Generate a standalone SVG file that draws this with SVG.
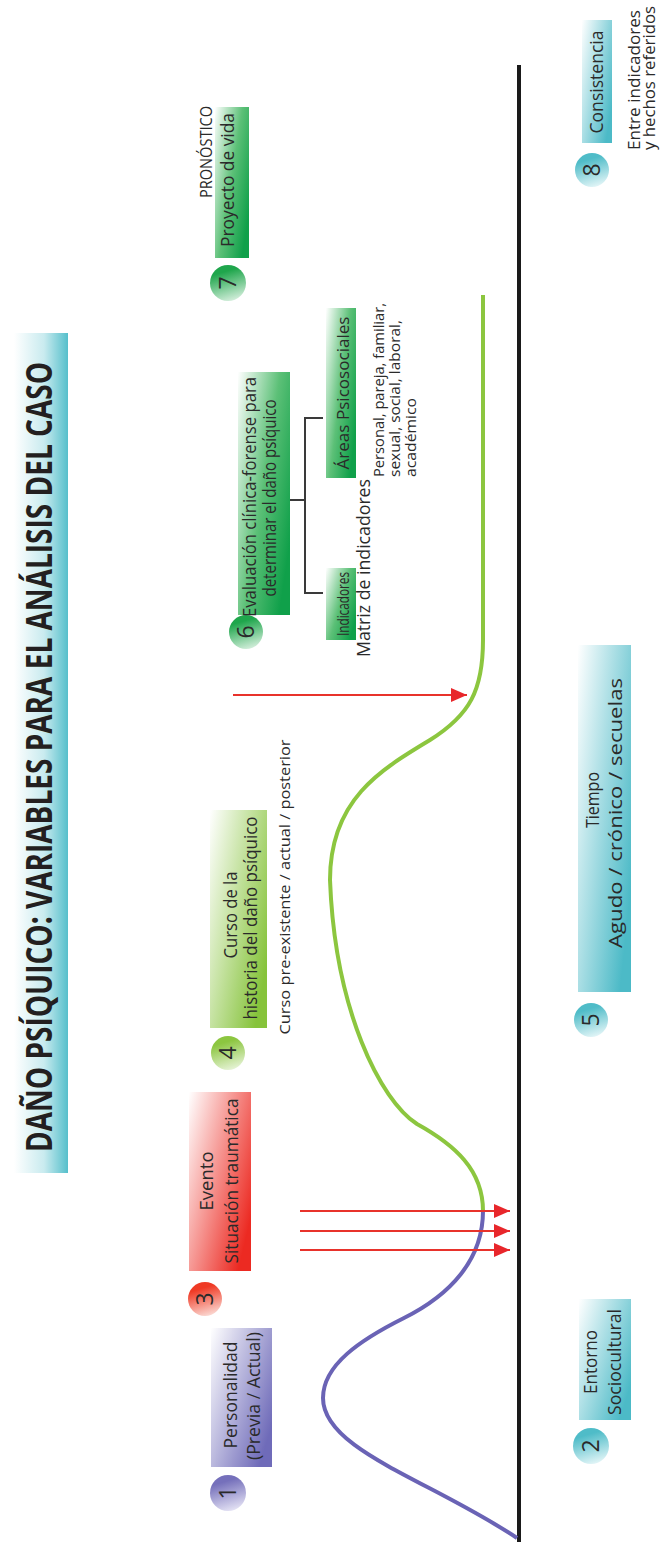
<svg xmlns="http://www.w3.org/2000/svg" width="667" height="1542" viewBox="0 0 667 1542">
<style>
text{font-family:"Open Sans","Liberation Sans",sans-serif;fill:#2a2a2a}
.lbl{font-size:18px}
.sm{font-size:14px}
.dg{font-size:23px}
.ttl{font-size:35px;font-weight:bold;fill:#231f20}
.ax{stroke:#1a1a1a;stroke-width:4;fill:none}
.arr{stroke:#e8322b;stroke-width:2;fill:none}
.brk{stroke:#3a3a3a;stroke-width:2;fill:none}
</style>
<defs>
<linearGradient id="gTitle" x1="0" y1="0" x2="1" y2="0"><stop offset="0.1" stop-color="#ffffff"/><stop offset="0.6" stop-color="#c9ebef"/><stop offset="1" stop-color="#55bfcb"/></linearGradient>
<linearGradient id="bPur" x1="0" y1="0" x2="1" y2="0.7"><stop offset="0" stop-color="#ffffff"/><stop offset="1" stop-color="#6f6bb9"/></linearGradient>
<linearGradient id="bTeal" x1="0" y1="0" x2="1" y2="0.7"><stop offset="0" stop-color="#ffffff"/><stop offset="1" stop-color="#4cbac7"/></linearGradient>
<linearGradient id="bRed" x1="0" y1="0" x2="1" y2="0.7"><stop offset="0" stop-color="#ffffff"/><stop offset="1" stop-color="#ec2a22"/></linearGradient>
<linearGradient id="bLime" x1="0" y1="0" x2="1" y2="0.7"><stop offset="0" stop-color="#ffffff"/><stop offset="1" stop-color="#86c33b"/></linearGradient>
<linearGradient id="bGrn" x1="0" y1="0" x2="1" y2="0.7"><stop offset="0" stop-color="#ffffff"/><stop offset="0.55" stop-color="#5cc077"/><stop offset="1" stop-color="#10a04a"/></linearGradient>
<linearGradient id="cPur" x1="0.3" y1="0" x2="0.6" y2="1"><stop offset="0.2" stop-color="#7570bb"/><stop offset="1" stop-color="#e4e2f4"/></linearGradient>
<linearGradient id="cTeal" x1="0.3" y1="0" x2="0.6" y2="1"><stop offset="0.2" stop-color="#4fbcc8"/><stop offset="1" stop-color="#e2f5f7"/></linearGradient>
<linearGradient id="cRed" x1="0.3" y1="0" x2="0.6" y2="1"><stop offset="0.2" stop-color="#ef3a25"/><stop offset="1" stop-color="#fbd9d3"/></linearGradient>
<linearGradient id="cLime" x1="0.3" y1="0" x2="0.6" y2="1"><stop offset="0.2" stop-color="#8cc640"/><stop offset="1" stop-color="#e6f3d6"/></linearGradient>
<linearGradient id="cGrn" x1="0.3" y1="0" x2="0.6" y2="1"><stop offset="0.2" stop-color="#1fa64c"/><stop offset="1" stop-color="#d3eedb"/></linearGradient>
<marker id="ah" viewBox="0 0 16 14" refX="16" refY="7" markerWidth="16" markerHeight="14" markerUnits="userSpaceOnUse" orient="auto"><path d="M0,0 L16,7 L0,14 z" fill="#e8262b"/></marker>
</defs>

<g id="title">
<rect x="8" y="333" width="60" height="840" fill="url(#gTitle)"/>
<text class="ttl" transform="translate(52,757) rotate(-90)" text-anchor="middle" textLength="790" lengthAdjust="spacingAndGlyphs">DAÑO PSÍQUICO: VARIABLES PARA EL ANÁLISIS DEL CASO</text>
</g>

<g id="axis"><path class="ax" d="M519,65 L519,1542"/></g>

<g id="curve">
<path d="M517,1538 C430,1480 323,1450 323,1398 C323,1365 360,1340 404,1318 C450,1295 483,1260 483,1211" stroke="#6a63b5" stroke-width="4" fill="none"/>
<path d="M483,1211 C483,1170 455,1145 417,1124 C380,1100 335,1010 330,880 C330,800 380,770 430,740 C470,715 483,690 483,640 L483,295" stroke="#8cc63f" stroke-width="4" fill="none"/>
</g>

<g id="node1">
<circle cx="228" cy="1493" r="18" fill="url(#cPur)"/>
<text class="dg" transform="translate(236,1493) rotate(-90)" text-anchor="middle">1</text>
<rect x="211" y="1328" width="61" height="139" fill="url(#bPur)"/>
<text class="lbl" transform="translate(237,1395) rotate(-90)" text-anchor="middle" textLength="107" lengthAdjust="spacingAndGlyphs">Personalidad</text>
<text class="lbl" transform="translate(260,1396) rotate(-90)" text-anchor="middle" textLength="128" lengthAdjust="spacingAndGlyphs">(Previa / Actual)</text>
</g>

<g id="node2">
<circle cx="591" cy="1446" r="18" fill="url(#cTeal)"/>
<text class="dg" transform="translate(599,1446) rotate(-90)" text-anchor="middle">2</text>
<rect x="579" y="1299" width="52" height="121" fill="url(#bTeal)"/>
<text class="lbl" transform="translate(597,1362) rotate(-90)" text-anchor="middle" textLength="64" lengthAdjust="spacingAndGlyphs">Entorno</text>
<text class="lbl" transform="translate(621,1362) rotate(-90)" text-anchor="middle" textLength="106" lengthAdjust="spacingAndGlyphs">Sociocultural</text>
</g>

<g id="node3">
<circle cx="205" cy="1299" r="17" fill="url(#cRed)"/>
<text class="dg" transform="translate(213,1299) rotate(-90)" text-anchor="middle">3</text>
<rect x="189" y="1092" width="62" height="179" fill="url(#bRed)"/>
<text class="lbl" transform="translate(213,1181) rotate(-90)" text-anchor="middle" textLength="59" lengthAdjust="spacingAndGlyphs">Evento</text>
<text class="lbl" transform="translate(238,1181) rotate(-90)" text-anchor="middle" textLength="165" lengthAdjust="spacingAndGlyphs">Situación traumática</text>
</g>

<g id="node4">
<circle cx="228" cy="1053" r="17" fill="url(#cLime)"/>
<text class="dg" transform="translate(236,1053) rotate(-90)" text-anchor="middle">4</text>
<rect x="210" y="810" width="57" height="218" fill="url(#bLime)"/>
<text class="lbl" transform="translate(237,915) rotate(-90)" text-anchor="middle" textLength="87" lengthAdjust="spacingAndGlyphs">Curso de la</text>
<text class="lbl" transform="translate(257,918) rotate(-90)" text-anchor="middle" textLength="203" lengthAdjust="spacingAndGlyphs">historia del daño psíquico</text>
<text class="sm" transform="translate(290,887) rotate(-90)" text-anchor="middle" textLength="295" lengthAdjust="spacingAndGlyphs">Curso pre-existente / actual / posterior</text>
</g>

<g id="node5">
<circle cx="591" cy="1020" r="17" fill="url(#cTeal)"/>
<text class="dg" transform="translate(599,1020) rotate(-90)" text-anchor="middle">5</text>
<rect x="578" y="645" width="53" height="347" fill="url(#bTeal)"/>
<text class="lbl" transform="translate(599,800) rotate(-90)" text-anchor="middle" textLength="56" lengthAdjust="spacingAndGlyphs">Tiempo</text>
<text class="lbl" transform="translate(622,813) rotate(-90)" text-anchor="middle" textLength="270" lengthAdjust="spacingAndGlyphs">Agudo / crónico / secuelas</text>
</g>

<g id="node6">
<rect x="238" y="372" width="52" height="243" fill="url(#bGrn)"/>
<circle cx="246" cy="632" r="17" fill="url(#cGrn)"/>
<text class="dg" transform="translate(254,632) rotate(-90)" text-anchor="middle">6</text>
<text class="lbl" transform="translate(256,497) rotate(-90)" text-anchor="middle" textLength="240" lengthAdjust="spacingAndGlyphs">Evaluación clínica-forense para</text>
<text class="lbl" transform="translate(276,498) rotate(-90)" text-anchor="middle" textLength="197" lengthAdjust="spacingAndGlyphs">determinar el daño psíquico</text>
</g>

<g id="node6a">
<rect x="326" y="568" width="30" height="72" fill="url(#bGrn)"/>
<text transform="translate(349,604) rotate(-90)" text-anchor="middle" textLength="64" lengthAdjust="spacingAndGlyphs" style="font-size:17px">Indicadores</text>
<text class="lbl" transform="translate(370,657) rotate(-90)" textLength="178" lengthAdjust="spacingAndGlyphs">Matriz de indicadores</text>
</g>

<g id="node6b">
<rect x="326" y="308" width="30" height="170" fill="url(#bGrn)"/>
<text transform="translate(349,393) rotate(-90)" text-anchor="middle" textLength="153" lengthAdjust="spacingAndGlyphs" style="font-size:17px">Áreas Psicosociales</text>
<text class="sm" transform="translate(384,477) rotate(-90)" textLength="174" lengthAdjust="spacingAndGlyphs">Personal, pareja, familiar,</text>
<text class="sm" transform="translate(400,477) rotate(-90)" textLength="157" lengthAdjust="spacingAndGlyphs">sexual, social, laboral,</text>
<text class="sm" transform="translate(416,477) rotate(-90)" textLength="79" lengthAdjust="spacingAndGlyphs">académico</text>
</g>

<g id="node7">
<text transform="translate(212,152) rotate(-90)" text-anchor="middle" textLength="92" lengthAdjust="spacingAndGlyphs" style="font-size:16px">PRONÓSTICO</text>
<rect x="215" y="107" width="34" height="151" fill="url(#bGrn)"/>
<text class="lbl" transform="translate(234,180) rotate(-90)" text-anchor="middle" textLength="134" lengthAdjust="spacingAndGlyphs">Proyecto de vida</text>
<circle cx="228" cy="283" r="18" fill="url(#cGrn)"/>
<text class="dg" transform="translate(236,283) rotate(-90)" text-anchor="middle">7</text>
</g>

<g id="node8">
<rect x="582" y="20" width="30" height="123" fill="url(#bTeal)"/>
<text class="lbl" transform="translate(603,82) rotate(-90)" text-anchor="middle" textLength="103" lengthAdjust="spacingAndGlyphs">Consistencia</text>
<circle cx="592" cy="170" r="17" fill="url(#cTeal)"/>
<text class="dg" transform="translate(600,170) rotate(-90)" text-anchor="middle">8</text>
<text transform="translate(640,150) rotate(-90)" textLength="140" lengthAdjust="spacingAndGlyphs" style="font-size:17px">Entre indicadores</text>
<text transform="translate(655,150) rotate(-90)" textLength="144" lengthAdjust="spacingAndGlyphs" style="font-size:17px">y hechos referidos</text>
</g>

<g id="connectors">
<path class="arr" d="M300,1211 L510,1211" marker-end="url(#ah)"/>
<path class="arr" d="M300,1231 L510,1231" marker-end="url(#ah)"/>
<path class="arr" d="M300,1250 L510,1250" marker-end="url(#ah)"/>
<path class="arr" d="M233,695 L467,695" marker-end="url(#ah)"/>
<path class="brk" d="M290,500 L305,500 M323,418 L305,418 L305,593 L323,593"/>
</g>
</svg>
